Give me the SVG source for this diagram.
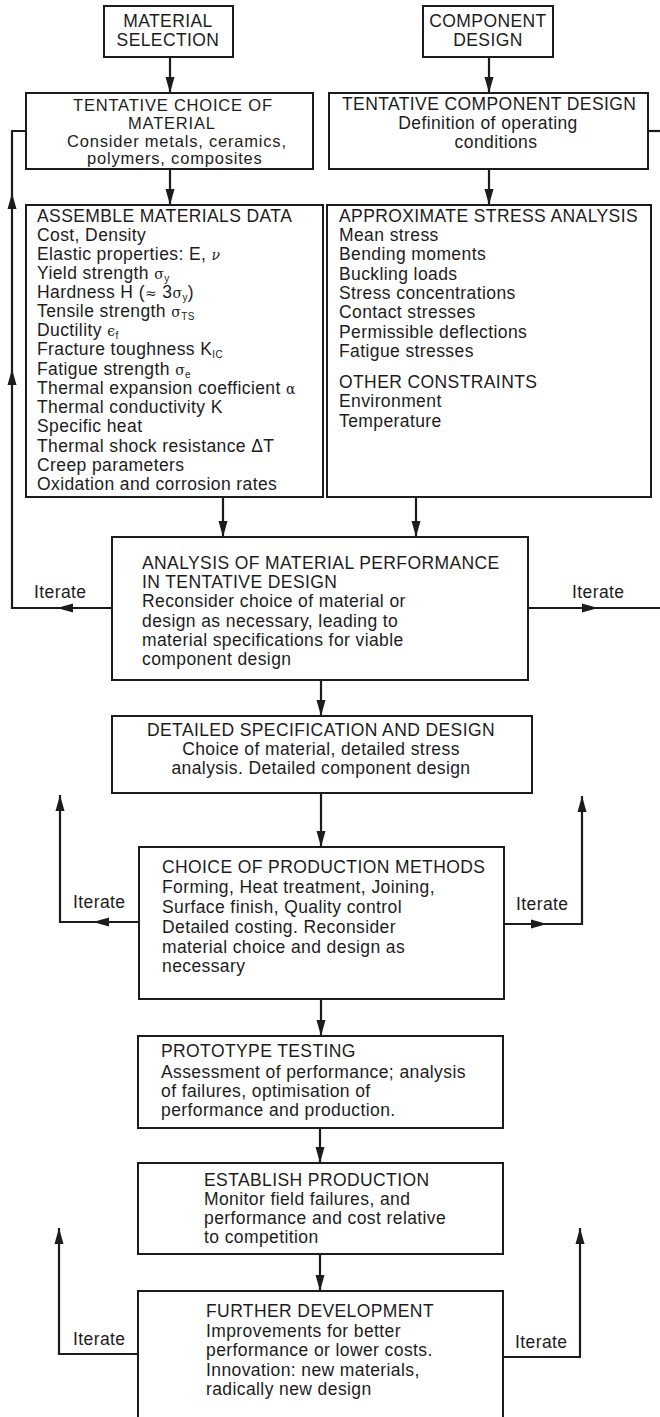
<svg xmlns="http://www.w3.org/2000/svg" width="660" height="1417" viewBox="0 0 660 1417">
<style>
.box{fill:#fff;stroke:#1c1c1c;stroke-width:2}
.ln{fill:none;stroke:#1c1c1c;stroke-width:2.2}
text{font-family:"Liberation Sans",Arial,"DejaVu Sans",sans-serif;font-size:17.5px;letter-spacing:0.4px;fill:#1c1c1c}
.c{text-anchor:middle}
.t{font-size:16.5px;letter-spacing:0.8px}
.sub{font-size:10px}
.gr{font-family:"DejaVu Serif","Liberation Serif",serif;font-size:14px}
</style>
<defs>
<marker id="ah" markerUnits="userSpaceOnUse" markerWidth="16" markerHeight="10" refX="16" refY="5" orient="auto">
<path d="M0,0.5 L16,5 L0,9.5 z" fill="#1c1c1c"/>
</marker>
</defs>
<rect width="660" height="1417" fill="#fff"/>
<g id="connectors">
<path class="ln" d="M170,57 V93" marker-end="url(#ah)"/>
<path class="ln" d="M489,57 V93" marker-end="url(#ah)"/>
<path class="ln" d="M170,169 V205" marker-end="url(#ah)"/>
<path class="ln" d="M489,169 V205" marker-end="url(#ah)"/>
<path class="ln" d="M223,497 V537" marker-end="url(#ah)"/>
<path class="ln" d="M416,497 V537" marker-end="url(#ah)"/>
<path class="ln" d="M321,680 V716" marker-end="url(#ah)"/>
<path class="ln" d="M321,793 V847" marker-end="url(#ah)"/>
<path class="ln" d="M321,999 V1036" marker-end="url(#ah)"/>
<path class="ln" d="M320,1128 V1163" marker-end="url(#ah)"/>
<path class="ln" d="M320,1254 V1291" marker-end="url(#ah)"/>
<path class="ln" d="M112,608 H57" marker-end="url(#ah)"/>
<path class="ln" d="M57,608 H12 V369" marker-end="url(#ah)"/>
<path class="ln" d="M12,369 V193" marker-end="url(#ah)"/>
<path class="ln" d="M12,193 V131 H26"/>
<path class="ln" d="M528,608 H598" marker-end="url(#ah)"/>
<path class="ln" d="M598,608 H660"/>
<path class="ln" d="M648,131 H660"/>
<path class="ln" d="M139,922 H93" marker-end="url(#ah)"/>
<path class="ln" d="M93,922 H60 V795" marker-end="url(#ah)"/>
<path class="ln" d="M504,924 H547" marker-end="url(#ah)"/>
<path class="ln" d="M547,924 H582 V796" marker-end="url(#ah)"/>
<path class="ln" d="M138,1354 H59 V1228" marker-end="url(#ah)"/>
<path class="ln" d="M503,1357 H580 V1228" marker-end="url(#ah)"/>
</g>
<g id="material-selection">
<rect class="box" x="104" y="6" width="129" height="51"/>
<text class="c" x="168" y="27">MATERIAL</text>
<text class="c" x="168" y="46">SELECTION</text>
</g>
<g id="component-design">
<rect class="box" x="423" y="6" width="130" height="51"/>
<text class="c" x="488" y="27">COMPONENT</text>
<text class="c" x="488" y="46">DESIGN</text>
</g>
<g id="tentative-material">
<rect class="box" x="26" y="93" width="287" height="76"/>
<text class="t" x="73" y="111">TENTATIVE CHOICE OF</text>
<text class="t" x="128" y="129">MATERIAL</text>
<text class="t" x="67" y="147">Consider metals, ceramics,</text>
<text class="t" x="87" y="164">polymers, composites</text>
</g>
<g id="tentative-component">
<rect class="box" x="329" y="93" width="319" height="76"/>
<text x="342" y="110">TENTATIVE COMPONENT DESIGN</text>
<text class="c" x="488" y="129">Definition of operating</text>
<text class="c" x="496" y="148">conditions</text>
</g>
<g id="materials-data">
<rect class="box" x="26" y="205" width="297" height="292"/>
<text x="37" y="222">ASSEMBLE MATERIALS DATA</text>
<text x="37" y="241">Cost, Density</text>
<text x="37" y="260">Elastic properties: E, <tspan class="gr" font-style="italic">ν</tspan></text>
<text x="37" y="279">Yield strength <tspan class="gr">σ</tspan><tspan class="sub" dy="2.5">y</tspan></text>
<text x="37" y="298">Hardness H (<tspan class="gr">≈</tspan> 3<tspan class="gr">σ</tspan><tspan class="sub" dy="2.5">y</tspan><tspan dy="-2.5">)</tspan></text>
<text x="37" y="317">Tensile strength <tspan class="gr">σ</tspan><tspan class="sub" dy="2.5">TS</tspan></text>
<text x="37" y="336">Ductility <tspan class="gr">ϵ</tspan><tspan class="sub" dy="2.5">f</tspan></text>
<text x="37" y="355">Fracture toughness K<tspan class="sub" dy="2.5">IC</tspan></text>
<text x="37" y="375">Fatigue strength <tspan class="gr">σ</tspan><tspan class="sub" dy="2.5">e</tspan></text>
<text x="37" y="394">Thermal expansion coefficient <tspan class="gr">α</tspan></text>
<text x="37" y="413">Thermal conductivity K</text>
<text x="37" y="432">Specific heat</text>
<text x="37" y="452">Thermal shock resistance ΔT</text>
<text x="37" y="471">Creep parameters</text>
<text x="37" y="490">Oxidation and corrosion rates</text>
</g>
<g id="stress-analysis">
<rect class="box" x="327" y="205" width="324" height="292"/>
<text x="339" y="222">APPROXIMATE STRESS ANALYSIS</text>
<text x="339" y="241">Mean stress</text>
<text x="339" y="260">Bending moments</text>
<text x="339" y="280">Buckling loads</text>
<text x="339" y="299">Stress concentrations</text>
<text x="339" y="318">Contact stresses</text>
<text x="339" y="338">Permissible deflections</text>
<text x="339" y="357">Fatigue stresses</text>
<text x="339" y="388">OTHER CONSTRAINTS</text>
<text x="339" y="407">Environment</text>
<text x="339" y="427">Temperature</text>
</g>
<g id="analysis">
<rect class="box" x="112" y="537" width="416" height="143"/>
<text x="142" y="569">ANALYSIS OF MATERIAL PERFORMANCE</text>
<text x="142" y="588">IN TENTATIVE DESIGN</text>
<text x="142" y="607">Reconsider choice of material or</text>
<text x="142" y="627">design as necessary, leading to</text>
<text x="142" y="646">material specifications for viable</text>
<text x="142" y="665">component design</text>
</g>
<g id="detailed-spec">
<rect class="box" x="112" y="716" width="420" height="77"/>
<text class="c" x="321" y="736">DETAILED SPECIFICATION AND DESIGN</text>
<text class="c" x="321" y="755">Choice of material, detailed stress</text>
<text class="c" x="321" y="774">analysis. Detailed component design</text>
</g>
<g id="production-methods">
<rect class="box" x="139" y="847" width="365" height="152"/>
<text x="162" y="873">CHOICE OF PRODUCTION METHODS</text>
<text x="162" y="893">Forming, Heat treatment, Joining,</text>
<text x="162" y="913">Surface finish, Quality control</text>
<text x="162" y="933">Detailed costing. Reconsider</text>
<text x="162" y="953">material choice and design as</text>
<text x="162" y="972">necessary</text>
</g>
<g id="prototype">
<rect class="box" x="138" y="1036" width="365" height="92"/>
<text x="161" y="1057">PROTOTYPE TESTING</text>
<text x="161" y="1078">Assessment of performance; analysis</text>
<text x="161" y="1097">of failures, optimisation of</text>
<text x="161" y="1116">performance and production.</text>
</g>
<g id="establish">
<rect class="box" x="138" y="1163" width="365" height="91"/>
<text x="204" y="1186">ESTABLISH PRODUCTION</text>
<text x="204" y="1205">Monitor field failures, and</text>
<text x="204" y="1224">performance and cost relative</text>
<text x="204" y="1243">to competition</text>
</g>
<g id="further">
<path class="box" d="M138,1418 V1291 H503 V1418"/>
<text x="206" y="1317">FURTHER DEVELOPMENT</text>
<text x="206" y="1337">Improvements for better</text>
<text x="206" y="1356">performance or lower costs.</text>
<text x="206" y="1376">Innovation: new materials,</text>
<text x="206" y="1395">radically new design</text>
</g>
<g id="labels">
<text x="34" y="598">Iterate</text>
<text x="572" y="598">Iterate</text>
<text x="73" y="908">Iterate</text>
<text x="516" y="910">Iterate</text>
<text x="73" y="1345">Iterate</text>
<text x="515" y="1348">Iterate</text>
</g>
</svg>
